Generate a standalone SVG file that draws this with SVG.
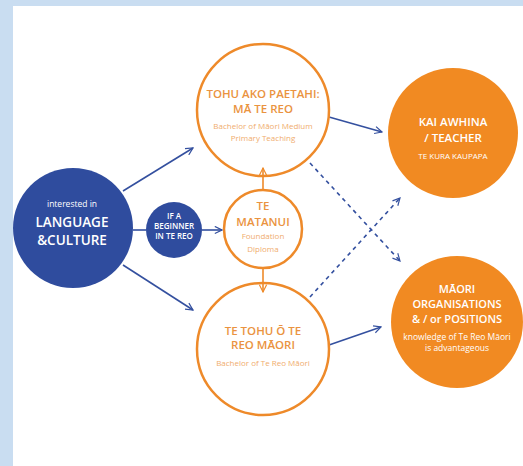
<svg xmlns="http://www.w3.org/2000/svg" width="523" height="466" viewBox="0 0 523 466">
<defs>
<marker id="ab" viewBox="0 0 10 10" refX="9" refY="5" markerWidth="9" markerHeight="9" markerUnits="userSpaceOnUse" orient="auto"><path d="M1,1 L9,5 L1,9" fill="none" stroke="#34509f" stroke-width="1.3"/></marker>
<marker id="ao" viewBox="0 0 10 10" refX="9" refY="5" markerWidth="9" markerHeight="9" markerUnits="userSpaceOnUse" orient="auto"><path d="M1,1 L9,5 L1,9" fill="none" stroke="#ee8a2a" stroke-width="1.3"/></marker>
</defs>
<style>
.ring{fill:#fff;stroke:#ee8a2a;stroke-width:2.5}
.fo{fill:#f18a22}
.fb{fill:#2f4c9e}
.ln{stroke:#34509f;stroke-width:1.6;fill:none}
.dl{stroke:#34509f;stroke-width:1.6;fill:none;stroke-dasharray:4 4}
.lo{stroke:#ee8a2a;stroke-width:1.6;fill:none}
text{font-family:"Open Sans","Noto Sans",sans-serif;text-anchor:middle}
.t{font-weight:600;font-size:11.5px;fill:#ea9340}
.s{font-size:8px;fill:#f0ad6e}
.w{font-weight:600;fill:#fff}
.ws{fill:#fff}
</style>
<rect x="0" y="0" width="523" height="466" fill="#c9ddf1"/>
<rect x="13" y="6" width="510" height="460" fill="#fff"/>
<g id="connectors">
<line class="ln" x1="123" y1="191" x2="193" y2="148" marker-end="url(#ab)"/>
<line class="ln" x1="123" y1="265" x2="193" y2="310" marker-end="url(#ab)"/>
<line class="ln" x1="133" y1="230" x2="146" y2="230"/>
<line class="ln" x1="202" y1="230" x2="222" y2="230" marker-end="url(#ab)"/>
<line class="ln" x1="329" y1="117" x2="382" y2="132" marker-end="url(#ab)"/>
<line class="ln" x1="329" y1="345" x2="381" y2="327" marker-end="url(#ab)"/>
<line class="dl" x1="310" y1="163" x2="400" y2="261" marker-end="url(#ab)"/>
<line class="dl" x1="310" y1="297" x2="400" y2="198" marker-end="url(#ab)"/>
</g>
<g id="n-top"><circle class="ring" cx="263" cy="110" r="66"/>
<text class="t" x="263" y="98">TOHU AKO PAETAHI:</text>
<text class="t" x="263" y="113">MĀ TE REO</text>
<text class="s" x="263" y="129">Bachelor of Māori Medium</text>
<text class="s" x="263" y="141">Primary Teaching</text></g>
<g id="n-bottom"><circle class="ring" cx="263" cy="349" r="66"/>
<text class="t" x="263" y="335">TE TOHU Ō TE</text>
<text class="t" x="263" y="349">REO MĀORI</text>
<text class="s" x="263" y="366">Bachelor of Te Reo Māori</text></g>
<g id="n-mid"><circle class="ring" cx="263" cy="229" r="39"/>
<text class="t" x="263" y="210">TE</text>
<text class="t" x="263" y="226">MATANUI</text>
<text class="s" x="263" y="239">Foundation</text>
<text class="s" x="263" y="252">Diploma</text></g>
<g id="orange-arrows">
<line class="lo" x1="263" y1="189" x2="263" y2="168" marker-end="url(#ao)"/>
<line class="lo" x1="263" y1="269" x2="263" y2="292" marker-end="url(#ao)"/>
</g>
<g id="n-lang"><circle class="fb" cx="73" cy="228" r="60"/>
<text class="ws" x="72" y="207" font-size="8.5">interested in</text>
<text class="w" x="72" y="226.5" font-size="13.5">LANGUAGE</text>
<text class="w" x="72" y="245" font-size="13.5">&amp;CULTURE</text></g>
<g id="n-begin"><circle class="fb" cx="174" cy="230" r="28"/>
<text class="w" x="174" y="219" font-size="8">IF A</text>
<text class="w" x="174" y="229" font-size="8">BEGINNER</text>
<text class="w" x="174" y="239" font-size="8">IN TE REO</text></g>
<g id="n-teacher"><circle class="fo" cx="453" cy="133" r="65"/>
<text class="w" x="453" y="126" font-size="11.5">KAI AWHINA</text>
<text class="w" x="453" y="142" font-size="11.5">/ TEACHER</text>
<text class="ws" x="453" y="159" font-size="8">TE KURA KAUPAPA</text></g>
<g id="n-org"><circle class="fo" cx="457" cy="322" r="66"/>
<text class="w" x="457" y="293" font-size="11">MĀORI</text>
<text class="w" x="457" y="308" font-size="11">ORGANISATIONS</text>
<text class="w" x="457" y="323" font-size="11">&amp; / or POSITIONS</text>
<text class="ws" x="457" y="340" font-size="8.5">knowledge of Te Reo Māori</text>
<text class="ws" x="457" y="351" font-size="8.5">is advantageous</text></g>
</svg>
